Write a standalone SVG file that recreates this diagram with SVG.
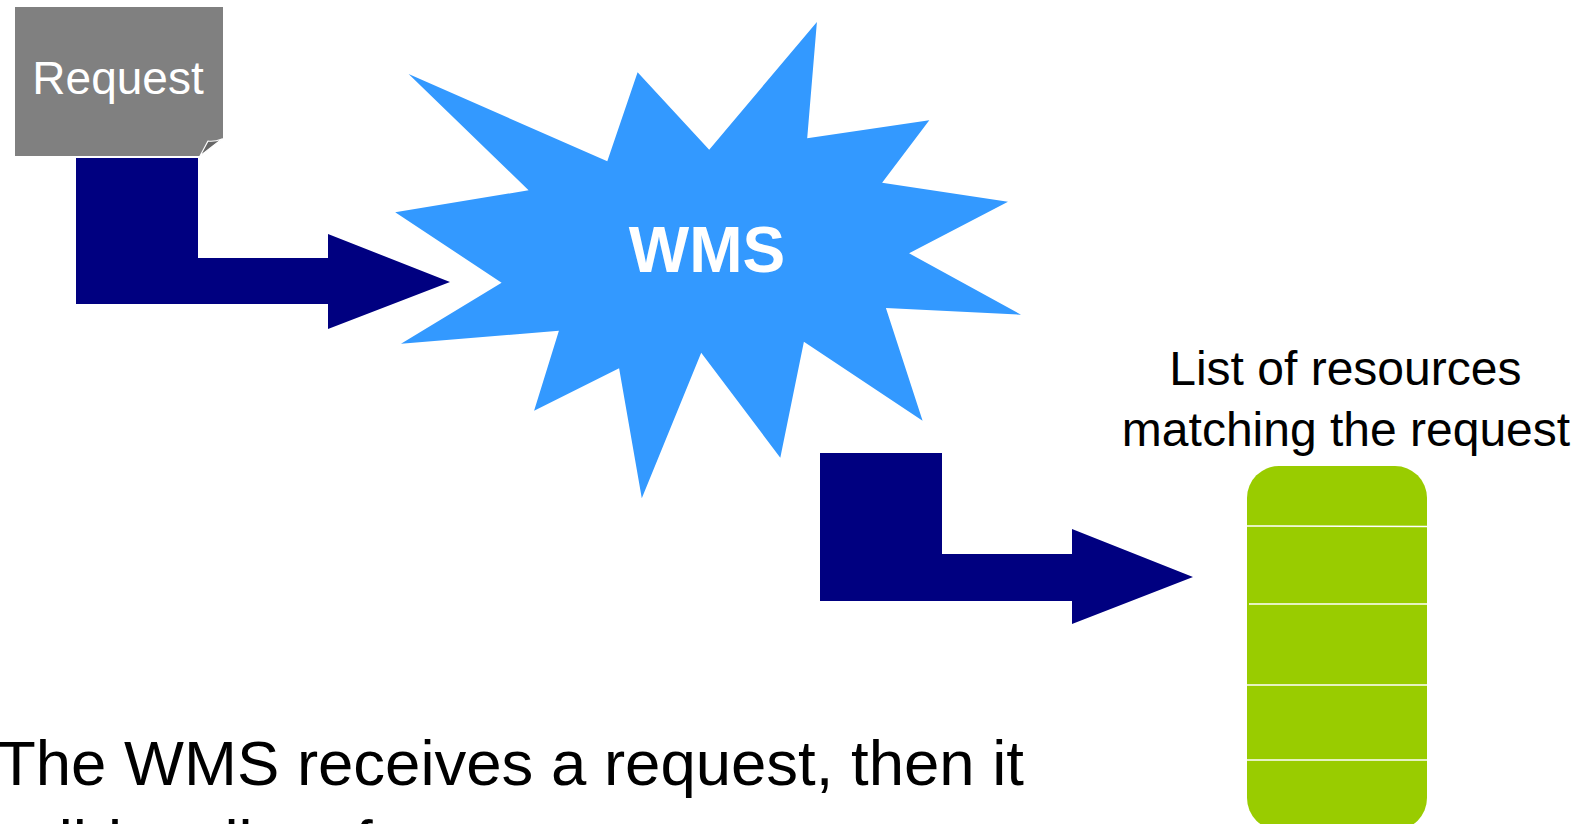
<svg xmlns="http://www.w3.org/2000/svg" width="1578" height="824" viewBox="0 0 1578 824">
  <style>
    .arrow { fill: #000080; }
    .sans { font-family: "Liberation Sans", Arial, sans-serif; }
    .divider { stroke: #ffffff; stroke-width: 1.6; }
  </style>

  <rect x="0" y="0" width="1578" height="824" fill="#ffffff"/>

  <!-- request sheet with curled corner -->
  <g id="request">
    <path d="M15,7 H223 V138 L200,156 H15 Z" fill="#808080"/>
    <path d="M200,156 L208,141 Q214,142 222,139 Z" fill="#666666" stroke="#ffffff" stroke-width="1.2" stroke-linejoin="round"/>
    <text class="sans" x="118" y="94" font-size="46" fill="#ffffff" text-anchor="middle">Request</text>
  </g>

  <!-- WMS burst -->
  <g id="wms">
    <polygon fill="#3399ff" points="408.6,74 607.3,161.3 637.6,72.3 709.2,149.7 816.9,22 807.2,138.3 929.3,120.3 882.1,182.7 1008,201.7 909.1,253.3 1021,314.7 885.9,308 922.6,420.7 803.9,341.7 780.3,457.7 701.2,352.7 641.8,498.3 619.1,368.3 534.1,410.7 558.9,330.7 401,343.7 501.6,282.7 395.2,212.3 528.6,190.3"/>
    <text class="sans" x="707" y="272" font-size="64" font-weight="bold" fill="#ffffff" text-anchor="middle">WMS</text>
  </g>

  <!-- resource list -->
  <g id="resources">
    <text class="sans" font-size="48" fill="#000000" text-anchor="middle">
      <tspan x="1352" y="385">List of resources</tspan>
      <tspan x="1346" y="446">matching the request</tspan>
    </text>
    <rect x="1247" y="466" width="180" height="364" rx="32" ry="32" fill="#99cc00"/>
    <line class="divider" x1="1247" y1="526" x2="1427" y2="526.5"/>
    <line class="divider" x1="1249" y1="604" x2="1427" y2="604"/>
    <line class="divider" x1="1247" y1="685" x2="1427" y2="685"/>
    <line class="divider" x1="1247" y1="760" x2="1427" y2="760"/>
  </g>

  <!-- caption -->
  <g id="caption">
    <text class="sans" font-size="63.5" fill="#000000">
      <tspan x="-3" y="785">The WMS receives a request, then it</tspan>
      <tspan x="-12" y="865">builds a list of resources</tspan>
    </text>
  </g>

  <!-- bent arrows -->
  <g id="connectors">
    <path class="arrow" d="M76,158 H198 V258 H328 V234 L450,282 L328,329 V304 H76 Z"/>
    <path class="arrow" d="M820,453 H942 V554 H1072 V529 L1193,577 L1072,624 V601 H820 Z"/>
  </g>
</svg>
